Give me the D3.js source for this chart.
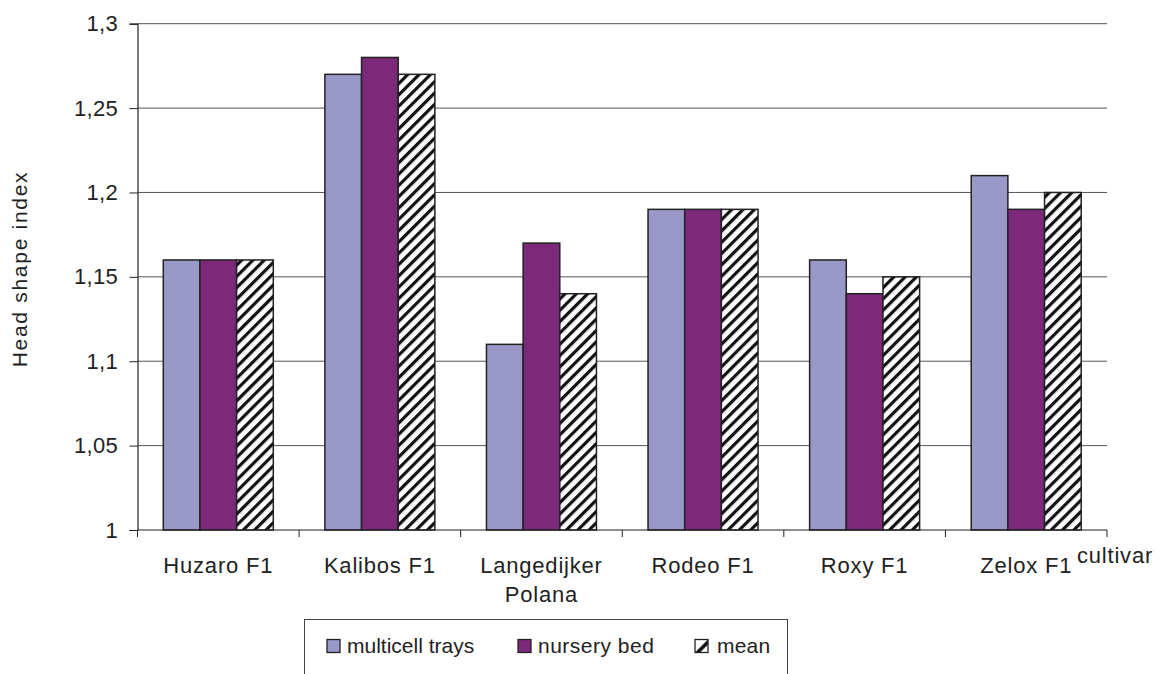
<!DOCTYPE html>
<html>
<head>
<meta charset="utf-8">
<script src="https://cdn.jsdelivr.net/npm/d3@7"></script>
<style>
  html, body { margin: 0; padding: 0; background: #fff; }
  svg { display: block; font-family: "Liberation Sans", Arial, sans-serif; }
</style>
</head>
<body>
<svg id="chart" width="1161" height="674"></svg>
<script>
const categories = ["Huzaro F1", "Kalibos F1", "Langedijker\nPolana", "Rodeo F1", "Roxy F1", "Zelox F1"];
const seriesNames = ["multicell trays", "nursery bed", "mean"];
const multicellTrays = [1.16, 1.27, 1.11, 1.19, 1.16, 1.21];
const nurseryBed     = [1.16, 1.28, 1.17, 1.19, 1.14, 1.19];
const meanValues     = [1.16, 1.27, 1.14, 1.19, 1.15, 1.20];
const yTicks = [1, 1.05, 1.1, 1.15, 1.2, 1.25, 1.3];

(function () {
const seriesValues = [multicellTrays, nurseryBed, meanValues];
const fills = ["#9a98c9", "#7c287b", "url(#hatch)"];
const FONT = "'Liberation Sans', Arial, sans-serif";

const svg = d3.select("#chart");
const defs = svg.append("defs");
const pat = defs.append("pattern")
  .attr("id", "hatch").attr("patternUnits", "userSpaceOnUse")
  .attr("width", 8).attr("height", 8)
  .attr("patternTransform", "rotate(45)");
pat.append("rect").attr("width", 8).attr("height", 8).attr("fill", "#fff");
pat.append("rect").attr("x", 0).attr("y", 0).attr("width", 3.2).attr("height", 8).attr("fill", "#111");

const patL = defs.append("pattern").attr("id", "hatchL").attr("patternUnits", "objectBoundingBox")
  .attr("width", 1).attr("height", 1);
patL.append("rect").attr("width", 13).attr("height", 13).attr("fill", "#fff");
patL.append("path").attr("d", "M0,13 L13,0 L13,5 L5,13 Z").attr("fill", "#111");

const mLeft = 137.5, mRight = 1107, mTop = 23.7, mBottom = 530;

const x = d3.scaleBand().domain(d3.range(categories.length)).range([mLeft, mRight]).padding(0);
const groupW = 110;
const bandInner = d3.scaleBand().domain(d3.range(3))
  .range([(x.bandwidth() - groupW) / 2, (x.bandwidth() + groupW) / 2]).padding(0);

const y = d3.scaleLinear().domain([1, 1.3]).range([mBottom, mTop]);
const fmt = d => String(+d.toFixed(2)).replace(".", ",");

// gridlines
svg.append("g").selectAll("line").data(yTicks.slice(1)).join("line")
  .attr("x1", mLeft).attr("x2", mRight)
  .attr("y1", d => y(d)).attr("y2", d => y(d))
  .attr("stroke", "#555").attr("stroke-width", 1);

// y axis
const yAxis = svg.append("g").attr("transform", `translate(${mLeft},0)`)
  .call(d3.axisLeft(y).tickValues(yTicks).tickFormat(fmt).tickSize(8).tickPadding(11.5));
yAxis.attr("font-size", null).attr("font-family", null);
yAxis.select(".domain").attr("stroke", "#222").attr("stroke-width", 1.2);
yAxis.selectAll(".tick line").attr("stroke", "#222");
yAxis.selectAll("text").attr("font-size", 22).attr("fill", "#222")
  .attr("font-family", FONT).attr("letter-spacing", 0.3);

// bars
const groups = svg.append("g").selectAll("g").data(categories).join("g")
  .attr("transform", (d, i) => `translate(${x(i)},0)`);
groups.each(function (c, ci) {
  d3.select(this).selectAll("rect").data(seriesValues.map((s, si) => ({ si, v: s[ci] }))).join("rect")
    .attr("x", d => bandInner(d.si))
    .attr("width", bandInner.bandwidth())
    .attr("y", d => y(d.v))
    .attr("height", d => y(1) - y(d.v))
    .attr("fill", d => fills[d.si])
    .attr("stroke", "#222").attr("stroke-width", 1.5);
});

// x axis
const xAxis = svg.append("g").attr("transform", `translate(0,${mBottom})`);
xAxis.append("line").attr("x1", mLeft).attr("x2", mRight).attr("y1", 0).attr("y2", 0)
  .attr("stroke", "#222").attr("stroke-width", 1.2);
const edges = d3.range(categories.length + 1).map(i => mLeft + i * x.bandwidth());
xAxis.selectAll("line.tk").data(edges).join("line").attr("class", "tk")
  .attr("x1", d => d).attr("x2", d => d).attr("y1", 0).attr("y2", 7)
  .attr("stroke", "#222");
xAxis.selectAll("text.cat").data(categories).join("text").attr("class", "cat")
  .attr("text-anchor", "middle").attr("font-size", 22).attr("fill", "#222")
  .attr("letter-spacing", 0.8)
  .each(function (d, i) {
    const lines = d.split("\n");
    d3.select(this).selectAll("tspan").data(lines).join("tspan")
      .attr("x", x(i) + x.bandwidth() / 2)
      .attr("y", (l, j) => 42.7 + j * 29)
      .text(l => l);
  });

// axis titles
svg.append("text").attr("x", 1077).attr("y", 563.3).attr("text-anchor", "start")
  .attr("font-size", 22).attr("letter-spacing", 0.8).attr("fill", "#222").text("cultivar");
svg.append("text").attr("transform", `translate(27.3,269) rotate(-90)`)
  .attr("text-anchor", "middle").attr("font-size", 21).attr("letter-spacing", 1.7)
  .attr("fill", "#222").text("Head shape index");

// legend
const lg = svg.append("g");
lg.append("rect").attr("x", 304.5).attr("y", 619.5).attr("width", 483).attr("height", 80)
  .attr("fill", "#fff").attr("stroke", "#444").attr("stroke-width", 1);
const legX = [327, 518, 695];
const legTextX = [20, 20, 22];
const legSpacing = [0, 0.5, 0.2];
const items = lg.selectAll("g").data(seriesNames).join("g")
  .attr("transform", (d, i) => `translate(${legX[i]},646)`);
items.append("rect").attr("x", 0).attr("y", -6.5).attr("width", 13).attr("height", 13)
  .attr("fill", (d, i) => i === 2 ? "url(#hatchL)" : fills[i]).attr("stroke", "#222").attr("stroke-width", 1.3);
items.append("text").attr("x", (d, i) => legTextX[i]).attr("y", 7).attr("font-size", 21).attr("fill", "#222")
  .attr("letter-spacing", (d, i) => legSpacing[i])
  .text(d => d);
})();
</script>
</body>
</html>
